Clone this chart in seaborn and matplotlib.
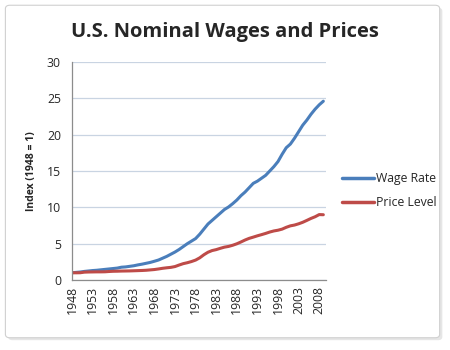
import matplotlib
matplotlib.use("Agg")
import matplotlib.pyplot as plt
from matplotlib.patches import FancyBboxPatch
import pandas as pd
import seaborn as sns

years = list(range(1948, 2010))
wage_rate = [
    1.00, 1.05, 1.10, 1.18, 1.24, 1.30, 1.34, 1.40, 1.46, 1.52,
    1.58, 1.64, 1.76, 1.80, 1.88, 1.96, 2.08, 2.18, 2.30, 2.42,
    2.58, 2.75, 3.00, 3.25, 3.55, 3.85, 4.20, 4.60, 5.00, 5.35,
    5.70, 6.30, 7.00, 7.70, 8.20, 8.70, 9.20, 9.70, 10.05, 10.50,
    11.00, 11.60, 12.10, 12.70, 13.30, 13.60, 14.00, 14.40, 15.00, 15.60,
    16.30, 17.30, 18.20, 18.70, 19.50, 20.40, 21.30, 22.00, 22.80, 23.50,
    24.10, 24.60,
]
price_level = [
    1.00, 0.99, 1.00, 1.08, 1.10, 1.11, 1.12, 1.12, 1.13, 1.17,
    1.20, 1.21, 1.23, 1.24, 1.25, 1.27, 1.29, 1.31, 1.34, 1.39,
    1.44, 1.52, 1.61, 1.68, 1.74, 1.85, 2.06, 2.25, 2.38, 2.54,
    2.74, 3.05, 3.47, 3.82, 4.05, 4.18, 4.36, 4.52, 4.62, 4.78,
    4.98, 5.23, 5.50, 5.73, 5.90, 6.08, 6.24, 6.41, 6.60, 6.75,
    6.85, 7.00, 7.25, 7.45, 7.56, 7.73, 7.94, 8.20, 8.47, 8.70,
    9.00, 8.98,
]
series_names = ["Wage Rate", "Price Level"]
colors = ["#4a7ebb", "#be4b48"]

df = pd.DataFrame({
    "Year": years * 2,
    "Index": wage_rate + price_level,
    "Series": [series_names[0]] * len(years) + [series_names[1]] * len(years),
})

sns.set_theme(style="white")
plt.rcParams["font.family"] = ["Open Sans", "DejaVu Sans"]

fig = plt.figure(figsize=(4.5, 3.5), dpi=100)
# card-like frame with a soft shadow
fig.patches.append(FancyBboxPatch((0.018, 0.028), 0.965, 0.95, boxstyle="round,pad=0,rounding_size=0.01",
                                  transform=fig.transFigure, facecolor="#e6e6e6", edgecolor="none", zorder=-2))
fig.patches.append(FancyBboxPatch((0.012, 0.035), 0.965, 0.95, boxstyle="round,pad=0,rounding_size=0.01",
                                  transform=fig.transFigure, facecolor="white", edgecolor="#d0d0d0",
                                  linewidth=0.8, zorder=-1))

ax = fig.add_axes([0.16, 0.2, 0.564, 0.623])
sns.lineplot(data=df, x="Year", y="Index", hue="Series", palette=colors, linewidth=2.2, ax=ax)

ax.set_xlim(1948, 2009.6)
ax.set_ylim(0, 30)
ax.set_yticks(range(0, 31, 5))
ax.set_xticks(range(1948, 2009, 5))
ax.tick_params(axis="x", labelrotation=90, labelsize=8.8, length=0, pad=4)
ax.tick_params(axis="y", labelsize=8.8, length=0, pad=8)
ax.yaxis.grid(True, color="#c9d4e2", linewidth=0.9)
ax.set_axisbelow(True)
for s in ["top", "right"]:
    ax.spines[s].set_visible(False)
for s in ["left", "bottom"]:
    ax.spines[s].set_color("#8c8c8c")
    ax.spines[s].set_linewidth(0.9)
ax.set_xlabel("")
ax.set_ylabel("Index (1948 = 1)", fontsize=7.5, fontweight="bold", labelpad=7)

fig.text(0.5, 0.91, "U.S. Nominal Wages and Prices", ha="center", va="center",
         fontsize=14.5, fontweight="bold")

leg = ax.legend(loc="center left", bbox_to_anchor=(1.02, 0.41), frameon=False,
                fontsize=8.8, handlelength=2.6, handletextpad=0.2, labelspacing=0.9)
for line in leg.get_lines():
    line.set_linewidth(2.5)

fig.savefig("out.png", dpi=100, facecolor="white")
